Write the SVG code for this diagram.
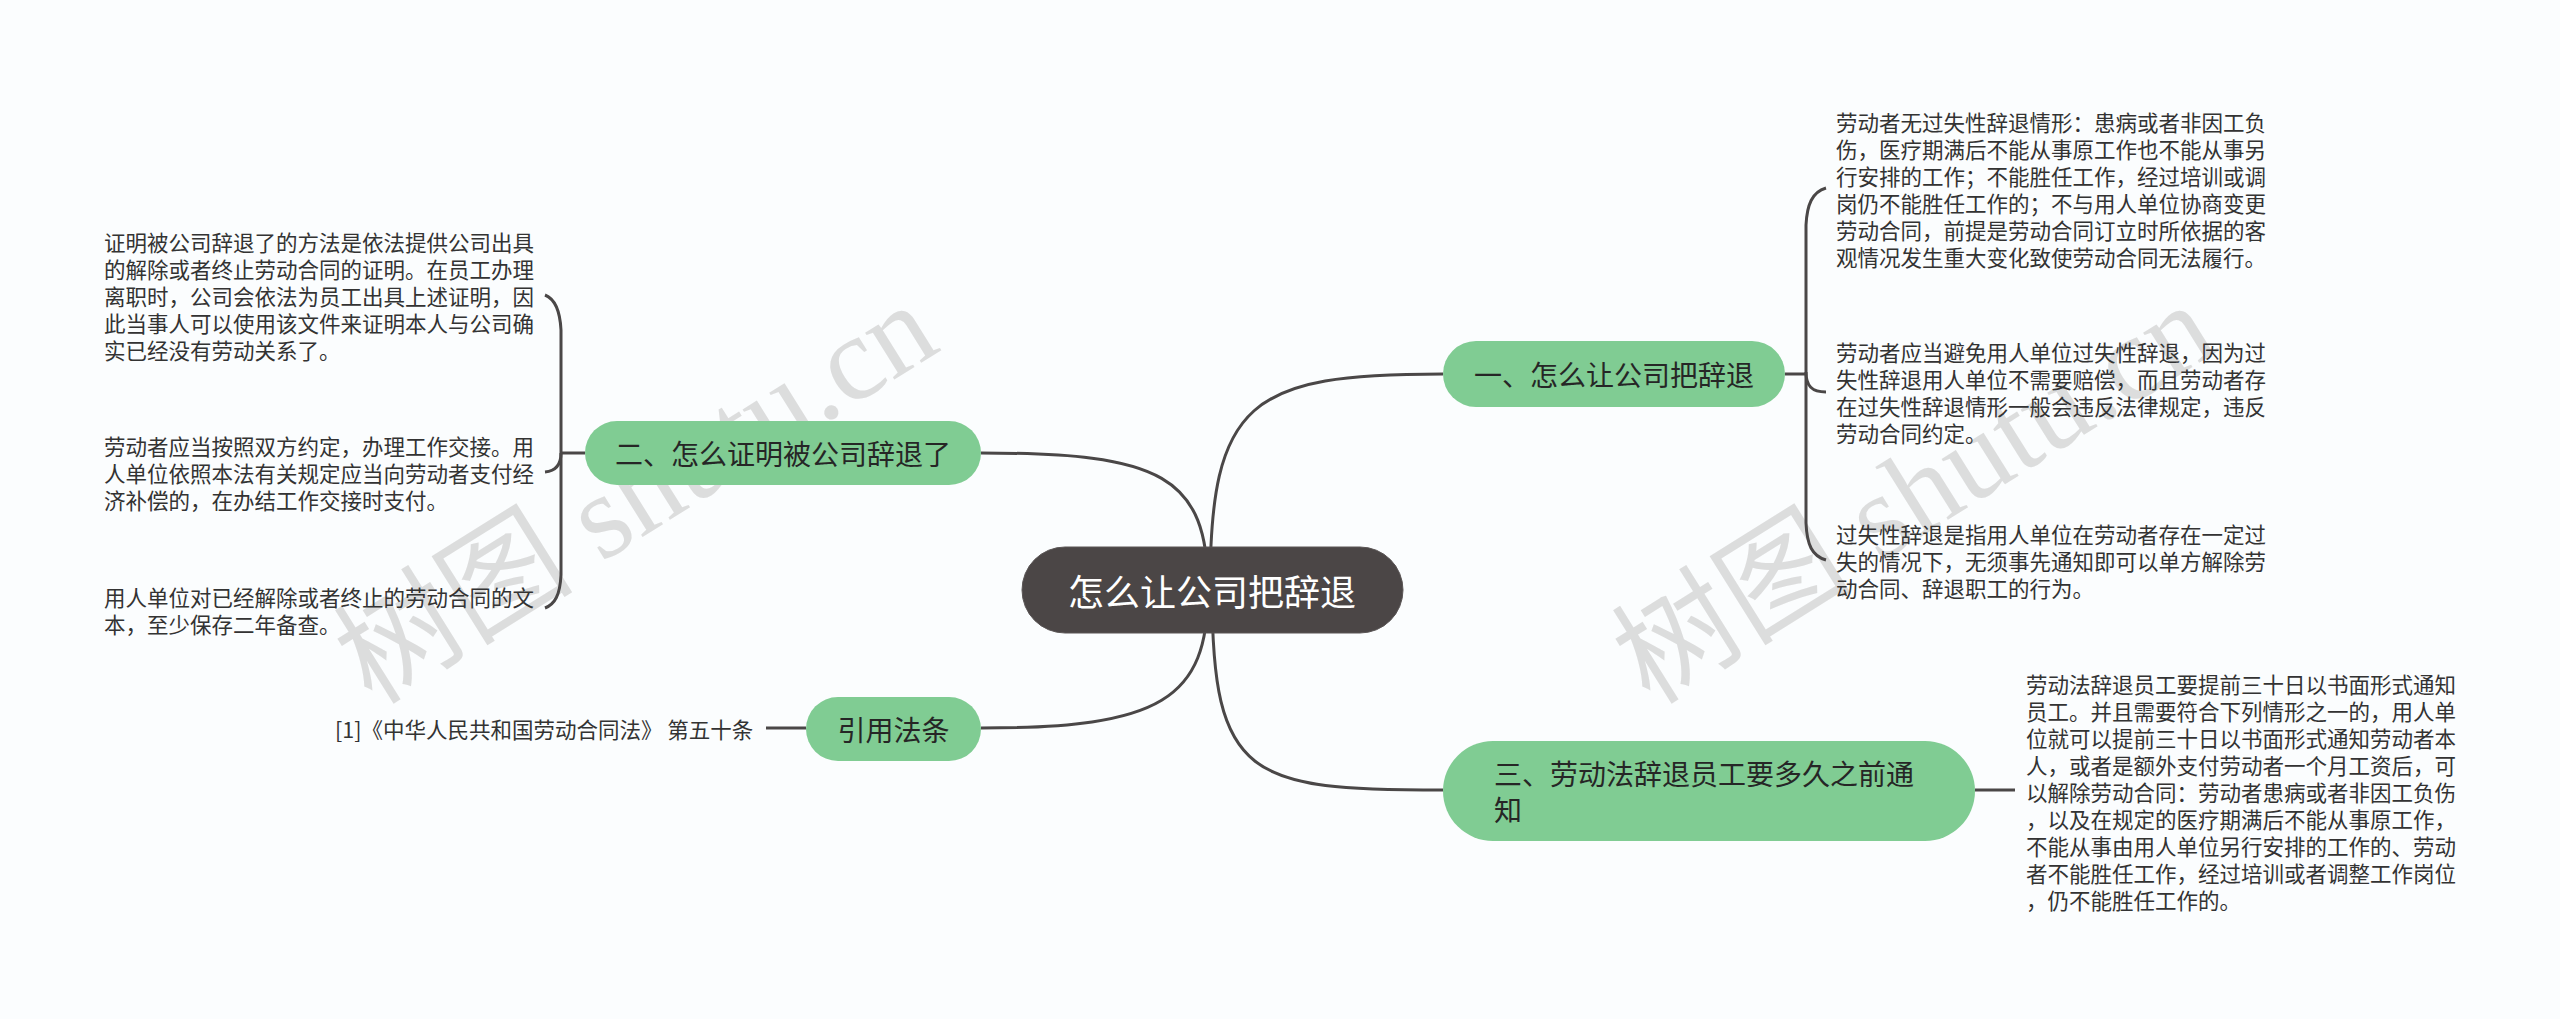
<svg xmlns="http://www.w3.org/2000/svg" width="2560" height="1019" viewBox="0 0 2560 1019">
<style>
.bg{fill:#fbfdfe}
.wm{font-family:"Liberation Serif","Noto Sans CJK SC",serif;font-size:120px;fill:#d4d4d4;fill-opacity:0.8}
.conn{fill:none;stroke:#4a4747;stroke-width:3}
.main{fill:#4b4646;stroke:#5a5555;stroke-width:1}
.mt{font-family:"Noto Sans CJK SC","Noto Sans",sans-serif;font-size:36px;fill:#ffffff;text-anchor:middle;dominant-baseline:central}
.br{fill:#80cc93}
.bt{font-family:"Noto Sans CJK SC","Noto Sans",sans-serif;font-size:28px;fill:#262626;dominant-baseline:central}
.lf{font-family:"Noto Sans CJK SC","Noto Sans",sans-serif;font-size:21.5px;fill:#333333;dominant-baseline:central}
</style>
<rect class="bg" x="0" y="0" width="2560" height="1019"/>
<text class="wm" transform="translate(372,706) rotate(-32)">树图 shutu.cn</text>
<text class="wm" transform="translate(1650,706) rotate(-32)">树图 shutu.cn</text>
<g id="connectors">
<path class="conn" d="M1210,590 C1210,400 1250,374 1443,374"/>
<path class="conn" d="M1208,590 C1208,475 1160,453 981,453"/>
<path class="conn" d="M1208,590 C1208,700 1160,728 981,728"/>
<path class="conn" d="M1212,590 C1212,780 1250,790 1443,790"/>
<path class="conn" d="M1785,374 L1806,374"/>
<path class="conn" d="M1826,188 C1812,192 1807,205 1806,225 L1806,523 C1807,545 1812,556 1826,560"/>
<path class="conn" d="M1806,372 C1806,386 1812,392 1826,392"/>
<path class="conn" d="M585,453 L561,453"/>
<path class="conn" d="M545,295 C555,299 560,310 561,330 L561,575 C560,595 555,604 545,608"/>
<path class="conn" d="M561,453 C561,465 556,471 545,472"/>
<path class="conn" d="M806,728 L766,728"/>
<path class="conn" d="M1975,790 L2015,790"/>
</g>
<g id="root">
<rect class="main" x="1022" y="547" width="381" height="86" rx="43"/>
<text class="mt" x="1212" y="590">怎么让公司把辞退</text>
</g>
<g id="n1">
<rect class="br" x="1443" y="341" width="342" height="66" rx="33"/>
<text class="bt" x="1614" y="374" text-anchor="middle">一、怎么让公司把辞退</text>
</g>
<g id="n1-leaves">
<text class="lf" x="1836" y="121">劳动者无过失性辞退情形：患病或者非因工负</text>
<text class="lf" x="1836" y="148">伤，医疗期满后不能从事原工作也不能从事另</text>
<text class="lf" x="1836" y="175">行安排的工作；不能胜任工作，经过培训或调</text>
<text class="lf" x="1836" y="202">岗仍不能胜任工作的；不与用人单位协商变更</text>
<text class="lf" x="1836" y="229">劳动合同，前提是劳动合同订立时所依据的客</text>
<text class="lf" x="1836" y="256">观情况发生重大变化致使劳动合同无法履行。</text>
<text class="lf" x="1836" y="351.5">劳动者应当避免用人单位过失性辞退，因为过</text>
<text class="lf" x="1836" y="378.5">失性辞退用人单位不需要赔偿，而且劳动者存</text>
<text class="lf" x="1836" y="405.5">在过失性辞退情形一般会违反法律规定，违反</text>
<text class="lf" x="1836" y="432.5">劳动合同约定。</text>
<text class="lf" x="1836" y="533">过失性辞退是指用人单位在劳动者存在一定过</text>
<text class="lf" x="1836" y="560">失的情况下，无须事先通知即可以单方解除劳</text>
<text class="lf" x="1836" y="587">动合同、辞退职工的行为。</text>
</g>
<g id="n2">
<rect class="br" x="585" y="421" width="396" height="64" rx="32"/>
<text class="bt" x="783" y="453" text-anchor="middle">二、怎么证明被公司辞退了</text>
</g>
<g id="n2-leaves">
<text class="lf" x="104" y="241">证明被公司辞退了的方法是依法提供公司出具</text>
<text class="lf" x="104" y="268">的解除或者终止劳动合同的证明。在员工办理</text>
<text class="lf" x="104" y="295">离职时，公司会依法为员工出具上述证明，因</text>
<text class="lf" x="104" y="322">此当事人可以使用该文件来证明本人与公司确</text>
<text class="lf" x="104" y="349">实已经没有劳动关系了。</text>
<text class="lf" x="104" y="445">劳动者应当按照双方约定，办理工作交接。用</text>
<text class="lf" x="104" y="472">人单位依照本法有关规定应当向劳动者支付经</text>
<text class="lf" x="104" y="499">济补偿的，在办结工作交接时支付。</text>
<text class="lf" x="104" y="596.5">用人单位对已经解除或者终止的劳动合同的文</text>
<text class="lf" x="104" y="623.5">本，至少保存二年备查。</text>
</g>
<g id="n4">
<rect class="br" x="806" y="697" width="175" height="64" rx="32"/>
<text class="bt" x="893.5" y="729" text-anchor="middle">引用法条</text>
</g>
<g id="n4-leaf">
<text class="lf" x="335" y="728">[1]《中华人民共和国劳动合同法》 第五十条</text>
</g>
<g id="n3">
<rect class="br" x="1443" y="741" width="532" height="100" rx="50"/>
<text class="bt" x="1494" y="773">三、劳动法辞退员工要多久之前通</text>
<text class="bt" x="1494" y="809">知</text>
</g>
<g id="n3-leaf">
<text class="lf" x="2026" y="683">劳动法辞退员工要提前三十日以书面形式通知</text>
<text class="lf" x="2026" y="710">员工。并且需要符合下列情形之一的，用人单</text>
<text class="lf" x="2026" y="737">位就可以提前三十日以书面形式通知劳动者本</text>
<text class="lf" x="2026" y="764">人，或者是额外支付劳动者一个月工资后，可</text>
<text class="lf" x="2026" y="791">以解除劳动合同：劳动者患病或者非因工负伤</text>
<text class="lf" x="2026" y="818">，以及在规定的医疗期满后不能从事原工作，</text>
<text class="lf" x="2026" y="845">不能从事由用人单位另行安排的工作的、劳动</text>
<text class="lf" x="2026" y="872">者不能胜任工作，经过培训或者调整工作岗位</text>
<text class="lf" x="2026" y="899">，仍不能胜任工作的。</text>
</g>
</svg>
